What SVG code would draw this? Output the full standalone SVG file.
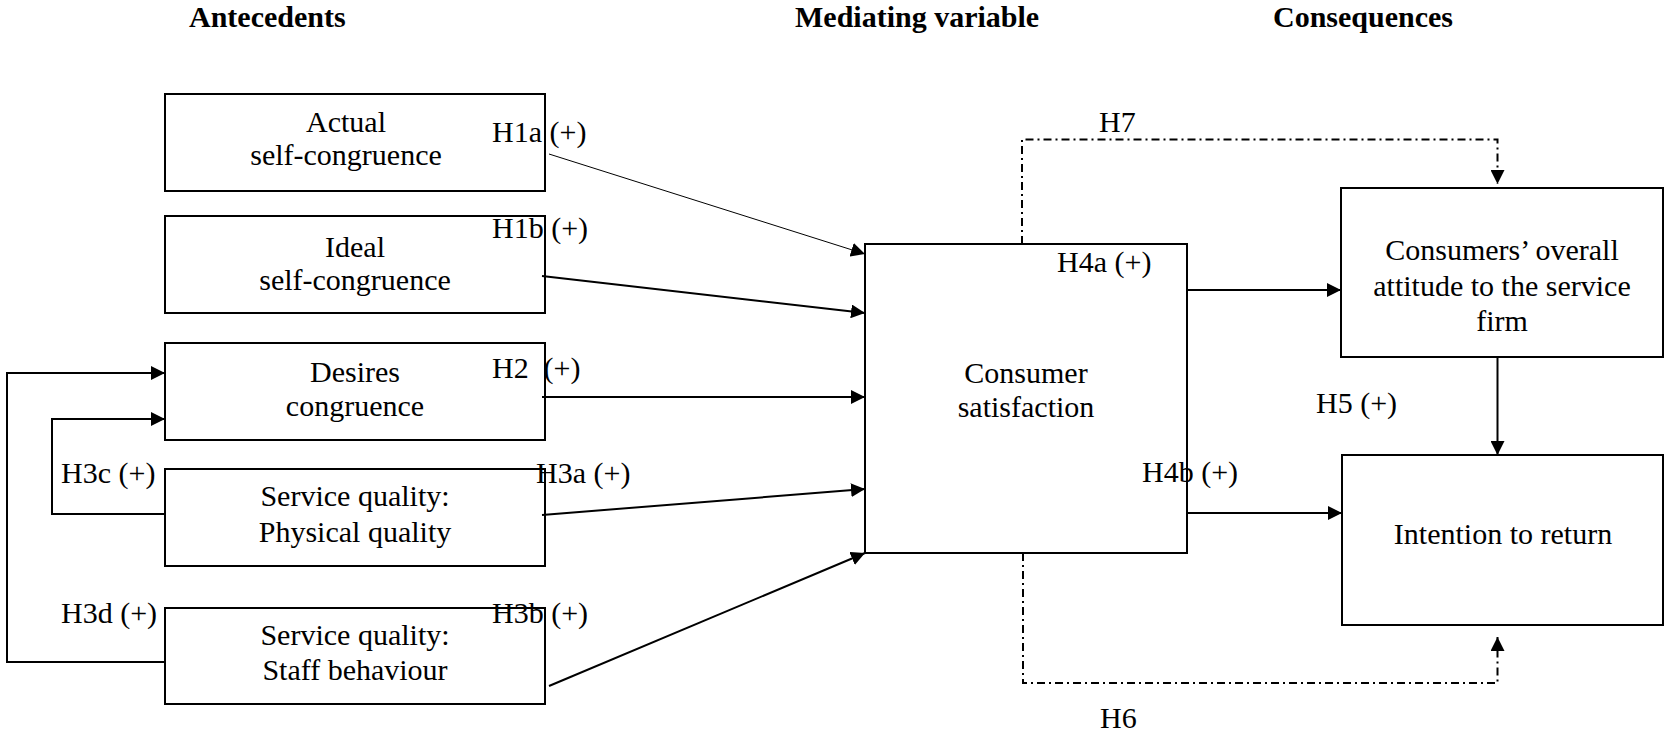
<svg xmlns="http://www.w3.org/2000/svg" width="1665" height="735" viewBox="0 0 1665 735">
  <style>
    .box { fill: #fff; stroke: #000; stroke-width: 2; }
    .lbl { font-family: "Liberation Serif", "Times New Roman", serif; font-size: 30px; fill: #000; }
    .ctr { text-anchor: middle; }
    .head { font-family: "Liberation Serif", "Times New Roman", serif; font-size: 30px; font-weight: bold; fill: #000; }
    .link { fill: none; stroke: #000; stroke-width: 2; }
    .thin { stroke-width: 1; }
    .dashdot { stroke-dasharray: 8 4 2 4; }
  </style>
  <defs>
    <marker id="arrow" markerUnits="userSpaceOnUse" markerWidth="14" markerHeight="14" refX="14" refY="7" orient="auto">
      <path d="M0,0 L14,7 L0,14 Z" fill="#000" stroke="none"/>
    </marker>
  </defs>

  <rect width="1665" height="735" fill="#fff"/>

  <!-- Column headings -->
  <g id="headings">
    <text class="head" x="189" y="27">Antecedents</text>
    <text class="head" x="795" y="27">Mediating variable</text>
    <text class="head" x="1273" y="27">Consequences</text>
  </g>

  <!-- Antecedents -->
  <g id="actual-self-congruence">
    <rect class="box" x="165" y="94" width="380" height="97"/>
    <text class="lbl ctr" x="346" y="132">Actual</text>
    <text class="lbl ctr" x="346" y="165">self-congruence</text>
  </g>
  <g id="ideal-self-congruence">
    <rect class="box" x="165" y="216" width="380" height="97"/>
    <text class="lbl ctr" x="355" y="257">Ideal</text>
    <text class="lbl ctr" x="355" y="290">self-congruence</text>
  </g>
  <g id="desires-congruence">
    <rect class="box" x="165" y="343" width="380" height="97"/>
    <text class="lbl ctr" x="355" y="382">Desires</text>
    <text class="lbl ctr" x="355" y="416">congruence</text>
  </g>
  <g id="physical-quality">
    <rect class="box" x="165" y="469" width="380" height="97"/>
    <text class="lbl ctr" x="355" y="506">Service quality:</text>
    <text class="lbl ctr" x="355" y="542">Physical quality</text>
  </g>
  <g id="staff-behaviour">
    <rect class="box" x="165" y="608" width="380" height="96"/>
    <text class="lbl ctr" x="355" y="645">Service quality:</text>
    <text class="lbl ctr" x="355" y="680">Staff behaviour</text>
  </g>

  <!-- Mediator -->
  <g id="consumer-satisfaction">
    <rect class="box" x="865" y="244" width="322" height="309"/>
    <text class="lbl ctr" x="1026" y="383">Consumer</text>
    <text class="lbl ctr" x="1026" y="417">satisfaction</text>
  </g>

  <!-- Consequences -->
  <g id="overall-attitude">
    <rect class="box" x="1341" y="188" width="322" height="169"/>
    <text class="lbl ctr" x="1502" y="260">Consumers’ overall</text>
    <text class="lbl ctr" x="1502" y="296">attitude to the service</text>
    <text class="lbl ctr" x="1502" y="331">firm</text>
  </g>
  <g id="intention-to-return">
    <rect class="box" x="1342" y="455" width="321" height="170"/>
    <text class="lbl ctr" x="1503" y="544">Intention to return</text>
  </g>

  <!-- Hypothesised paths -->
  <g id="connectors">
    <line class="link thin" x1="549" y1="154" x2="865" y2="254" marker-end="url(#arrow)"/>
    <line class="link" x1="542" y1="276" x2="865" y2="313" marker-end="url(#arrow)"/>
    <line class="link" x1="542" y1="397" x2="865" y2="397" marker-end="url(#arrow)"/>
    <line class="link" x1="542" y1="515" x2="865" y2="489" marker-end="url(#arrow)"/>
    <line class="link" x1="549" y1="686" x2="865" y2="553" marker-end="url(#arrow)"/>
    <polyline class="link" points="165,514 52,514 52,419 165,419" marker-end="url(#arrow)"/>
    <polyline class="link" points="165,662 7,662 7,373 165,373" marker-end="url(#arrow)"/>
    <line class="link" x1="1187" y1="290" x2="1341" y2="290" marker-end="url(#arrow)"/>
    <line class="link" x1="1187" y1="513" x2="1342" y2="513" marker-end="url(#arrow)"/>
    <line class="link" x1="1497.5" y1="357" x2="1497.5" y2="455" marker-end="url(#arrow)"/>
    <polyline class="link dashdot" points="1022,244 1022,139.5 1497.5,139.5 1497.5,184" marker-end="url(#arrow)"/>
    <polyline class="link dashdot" points="1023,553 1023,683 1497.5,683 1497.5,637" marker-end="url(#arrow)"/>
  </g>

  <!-- Path labels -->
  <g id="labels">
    <text class="lbl" x="492" y="142">H1a (+)</text>
    <text class="lbl" x="492" y="238">H1b (+)</text>
    <text class="lbl" x="492" y="378">H2<tspan x="543.5">(+)</tspan></text>
    <text class="lbl" x="536" y="483">H3a (+)</text>
    <text class="lbl" x="492" y="623">H3b (+)</text>
    <text class="lbl" x="61" y="483">H3c (+)</text>
    <text class="lbl" x="61" y="623">H3d (+)</text>
    <text class="lbl" x="1057" y="272">H4a (+)</text>
    <text class="lbl" x="1142" y="482">H4b (+)</text>
    <text class="lbl" x="1316" y="413">H5 (+)</text>
    <text class="lbl" x="1100" y="728">H6</text>
    <text class="lbl" x="1099" y="132">H7</text>
  </g>
</svg>
